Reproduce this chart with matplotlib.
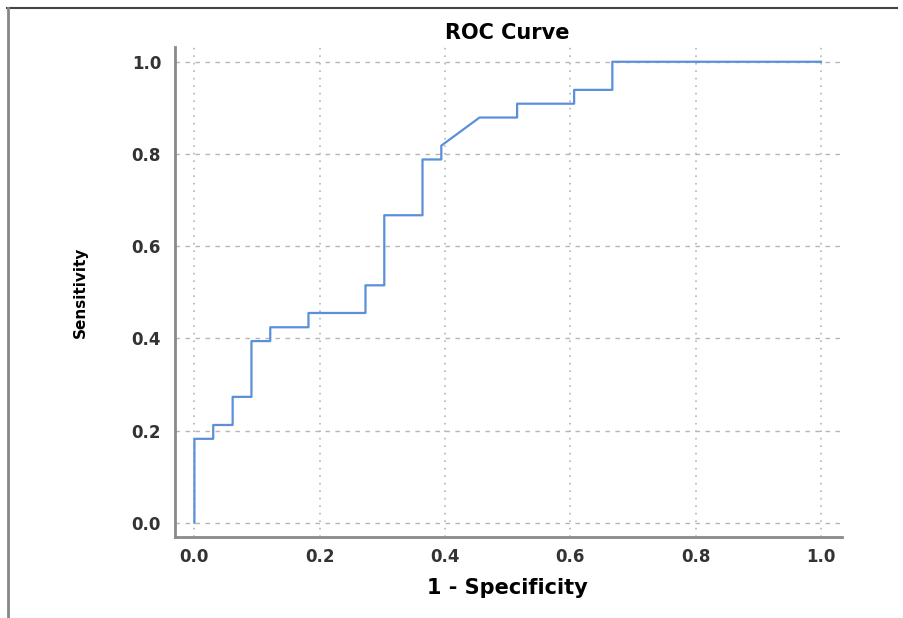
import matplotlib
matplotlib.use('Agg')
import matplotlib.pyplot as plt
from matplotlib import font_manager
from matplotlib.lines import Line2D

# ROC points (1 - specificity, sensitivity)
fpr = [0.0, 0.0, 0.030, 0.030, 0.061, 0.061, 0.091, 0.091, 0.121, 0.121,
       0.182, 0.182, 0.273, 0.273, 0.303, 0.303, 0.364, 0.364, 0.394, 0.394,
       0.455, 0.515, 0.515, 0.606, 0.606, 0.667, 0.667, 1.0]
tpr = [0.0, 0.182, 0.182, 0.212, 0.212, 0.273, 0.273, 0.394, 0.394, 0.424,
       0.424, 0.455, 0.455, 0.515, 0.515, 0.667, 0.667, 0.788, 0.788, 0.818,
       0.879, 0.879, 0.909, 0.909, 0.939, 0.939, 1.0, 1.0]
ticks = [0.0, 0.2, 0.4, 0.6, 0.8, 1.0]
tick_labels = ['0.0', '0.2', '0.4', '0.6', '0.8', '1.0']

# narrow font for the y label if one is installed
names = {f.name for f in font_manager.fontManager.ttflist}
if 'Liberation Sans Narrow' in names:
    ylab_font, ylab_size = 'Liberation Sans Narrow', 15
else:
    ylab_font, ylab_size = 'DejaVu Sans', 11

plt.rcParams['font.family'] = ['DejaVu Sans']

fig = plt.figure(figsize=(9.04, 6.18), dpi=100)
ax = fig.add_axes([175 / 904, 1 - 537 / 618, 667 / 904, 490 / 618])

ax.plot(fpr, tpr, color='#5b8fd9', lw=1.6, zorder=3)

ax.set_xlim(-0.031, 1.0335)
ax.set_ylim(-0.031, 1.032)
ax.set_xticks(ticks)
ax.set_xticklabels(tick_labels)
ax.set_yticks(ticks)
ax.set_yticklabels(tick_labels)
ax.tick_params(length=0, labelsize=12, labelcolor='#333333')
ax.tick_params(axis='x', pad=8)
ax.tick_params(axis='y', pad=10)
for lab in ax.get_xticklabels() + ax.get_yticklabels():
    lab.set_fontweight('bold')

ax.xaxis.grid(True, color='#b5b5b5', lw=1.2, linestyle=(0, (1, 3.5)))
ax.yaxis.grid(True, color='#b5b5b5', lw=1.0, linestyle=(0, (3.2, 4)))
ax.set_axisbelow(True)

for side in ['top', 'right']:
    ax.spines[side].set_visible(False)
for side in ['left', 'bottom']:
    ax.spines[side].set_color('#8a8a8a')
    ax.spines[side].set_linewidth(2)

ax.set_xlabel('1 - Specificity', fontsize=15, fontweight='bold', va='center')
ax.xaxis.set_label_coords(0.4985, -0.104)
ax.set_ylabel('Sensitivity', fontsize=ylab_size, fontweight='bold',
              family=ylab_font, va='center')
ax.yaxis.set_label_coords(-0.142, 0.5)

fig.text(507 / 904, 1 - 33 / 618, 'ROC Curve', fontsize=15, fontweight='bold',
         ha='center', va='center')

# image frame
fig.add_artist(Line2D([7 / 904, 897 / 904], [1 - 7.5 / 618, 1 - 7.5 / 618],
                      color='#444444', lw=1.5, transform=fig.transFigure))
fig.add_artist(Line2D([8 / 904, 8 / 904], [0, 1 - 7.5 / 618],
                      color='#888888', lw=2, transform=fig.transFigure))

fig.savefig('out.png', dpi=100)
